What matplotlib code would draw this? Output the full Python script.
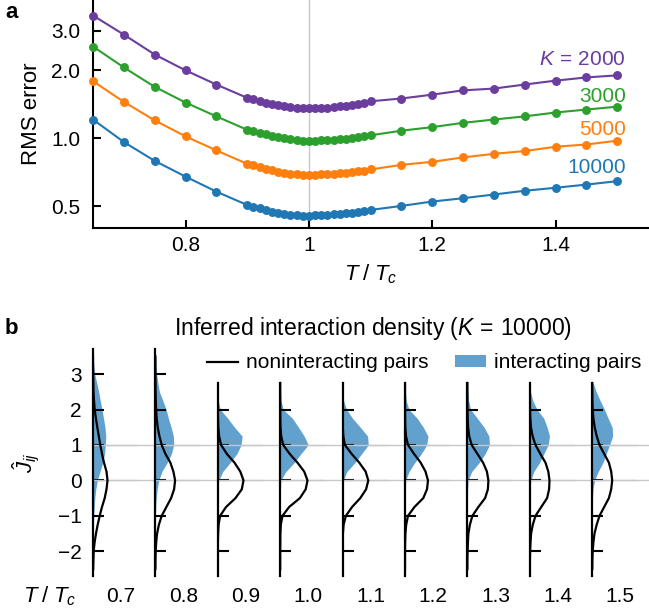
import numpy as np
import matplotlib
matplotlib.use("Agg")
import matplotlib.pyplot as plt
from matplotlib.lines import Line2D
from matplotlib.patches import Patch

plt.rcParams['font.family'] = ['Liberation Sans', 'DejaVu Sans']
plt.rcParams['mathtext.fontset'] = 'custom'
plt.rcParams['mathtext.rm'] = 'Liberation Sans'
plt.rcParams['mathtext.it'] = 'Liberation Sans:italic'
plt.rcParams['mathtext.bf'] = 'Liberation Sans:bold'
plt.rcParams['font.size'] = 15

# ---- panel a data: RMS error vs T/Tc for several sample sizes K ----
T = [0.65, 0.70, 0.75, 0.80, 0.85,
     0.90, 0.91, 0.92, 0.93, 0.94, 0.95, 0.96, 0.97, 0.98, 0.99, 1.00,
     1.01, 1.02, 1.03, 1.04, 1.05, 1.06, 1.07, 1.08, 1.09, 1.10,
     1.15, 1.20, 1.25, 1.30, 1.35, 1.40, 1.45, 1.50]
K_labels = ['2000', '3000', '5000', '10000']
rms_2000 = [3.50, 2.88, 2.35, 2.00, 1.73,
            1.510, 1.485, 1.462, 1.440, 1.420, 1.402, 1.386, 1.374, 1.365, 1.358, 1.355,
            1.356, 1.359, 1.364, 1.372, 1.385, 1.395, 1.407, 1.421, 1.438, 1.458,
            1.50, 1.56, 1.63, 1.66, 1.73, 1.80, 1.86, 1.90]
rms_3000 = [2.55, 2.06, 1.69, 1.44, 1.25,
            1.090, 1.072, 1.055, 1.040, 1.025, 1.010, 0.998, 0.988, 0.981, 0.977, 0.975,
            0.976, 0.978, 0.981, 0.985, 0.990, 0.996, 1.002, 1.010, 1.019, 1.030,
            1.08, 1.12, 1.17, 1.21, 1.25, 1.30, 1.34, 1.38]
rms_5000 = [1.79, 1.45, 1.20, 1.02, 0.883,
            0.770, 0.758, 0.745, 0.733, 0.722, 0.712, 0.703, 0.697, 0.692, 0.690, 0.689,
            0.690, 0.692, 0.694, 0.697, 0.700, 0.704, 0.708, 0.713, 0.719, 0.727,
            0.762, 0.786, 0.822, 0.853, 0.877, 0.917, 0.938, 0.975]
rms_10000 = [1.21, 0.962, 0.794, 0.676, 0.580,
             0.506, 0.498, 0.490, 0.481, 0.473, 0.468, 0.462, 0.457, 0.456, 0.454, 0.454,
             0.455, 0.456, 0.458, 0.460, 0.462, 0.465, 0.468, 0.472, 0.476, 0.481,
             0.501, 0.524, 0.542, 0.563, 0.585, 0.603, 0.623, 0.645]
label_y = [2.23, 1.53, 1.09, 0.74]
colors = ['#6b3d9e', '#2ca02c', '#ff7f0e', '#1f77b4']

# ---- panel b data: inferred coupling densities (K = 10000) ----
T_hist = ['0.7', '0.8', '0.9', '1.0', '1.1', '1.2', '1.3', '1.4', '1.5']
J = np.arange(-2.5, 3.51, 0.25)
# noninteracting pairs (black curve), J = -2.5 ... 3.5
dens_nonint = [
    [0.2, 0.4, 0.7, 1.6, 3.0, 4.7, 6.7, 9.0, 11.7, 13.5, 14.5, 13.5, 11.0, 9.0, 7.3, 5.8, 4.3, 2.9, 1.7, 1.0, 0.5, 0.3, 0.1, 0, 0],
    [0, 0.1, 0.3, 0.8, 1.7, 3.5, 6.3, 11.0, 15.7, 18.7, 19.7, 18.0, 15.0, 10.0, 6.3, 4.0, 2.3, 1.3, 0.7, 0.4, 0.2, 0.1, 0, 0, 0],
    [0, 0, 0, 0.1, 0.3, 0.8, 2.3, 8.3, 17.7, 24.0, 25.7, 22.5, 16.7, 9.0, 3.3, 1.3, 0.5, 0.2, 0.1, 0, 0, 0, 0, 0, 0],
    [0, 0, 0, 0.1, 0.2, 0.6, 2.3, 9.0, 19.7, 25.5, 27.3, 24.0, 17.3, 9.5, 3.0, 1.0, 0.3, 0.1, 0, 0, 0, 0, 0, 0, 0],
    [0, 0, 0, 0.1, 0.3, 1.0, 3.3, 9.5, 17.7, 23.5, 25.7, 23.0, 16.7, 9.0, 2.3, 0.7, 0.2, 0.1, 0, 0, 0, 0, 0, 0, 0],
    [0, 0, 0, 0.1, 0.4, 1.2, 3.0, 9.5, 18.3, 22.0, 23.0, 20.5, 15.7, 9.0, 3.0, 1.0, 0.3, 0.1, 0, 0, 0, 0, 0, 0, 0],
    [0, 0, 0.2, 0.5, 1.0, 2.5, 5.0, 11.0, 17.7, 20.5, 21.0, 19.5, 15.7, 10.0, 4.3, 1.8, 0.7, 0.3, 0.1, 0, 0, 0, 0, 0, 0],
    [0, 0.1, 0.3, 0.7, 1.3, 3.0, 5.7, 11.5, 17.3, 19.3, 19.7, 18.5, 15.7, 10.5, 5.7, 2.8, 1.2, 0.5, 0.2, 0.1, 0, 0, 0, 0, 0],
    [0.1, 0.2, 0.5, 1.2, 2.3, 4.5, 7.3, 12.0, 16.7, 19.0, 20.0, 19.0, 16.7, 12.0, 7.3, 4.5, 2.5, 1.2, 0.5, 0.2, 0.1, 0, 0, 0, 0],
]
# interacting pairs (blue histogram), J = -2.5 ... 3.5
dens_int = [
    [0, 0, 0, 0, 0.2, 0.4, 0.8, 1.2, 1.8, 2.8, 4.3, 7.0, 9.7, 11.5, 12.3, 12.8, 12.0, 10.5, 9.0, 7.3, 5.7, 3.8, 1.7, 0.8, 0.3],
    [0, 0, 0, 0, 0, 0, 0, 0.3, 0.8, 1.8, 3.3, 6.5, 11.7, 16.0, 18.3, 18.0, 15.7, 13.0, 10.7, 7.5, 4.0, 2.5, 1.2, 0.6, 0.2],
    [0, 0, 0, 0, 0, 0, 0, 0, 0, 0.2, 0.8, 5.0, 12.3, 19.0, 23.3, 24.3, 16.7, 10.0, 2.5, 0.5, 0.2, 0, 0, 0, 0],
    [0, 0, 0, 0, 0, 0, 0, 0, 0, 0.2, 0.7, 5.7, 14.0, 20.7, 28.0, 24.0, 18.3, 12.3, 3.0, 0.8, 0.2, 0, 0, 0, 0],
    [0, 0, 0, 0, 0, 0, 0, 0, 0, 0.2, 0.7, 4.3, 12.3, 19.0, 25.7, 25.0, 17.7, 10.0, 4.0, 1.0, 0.3, 0, 0, 0, 0],
    [0, 0, 0, 0, 0, 0, 0, 0, 0, 0.2, 0.7, 4.0, 9.7, 16.3, 21.7, 23.0, 18.3, 12.3, 4.0, 1.2, 0.4, 0.1, 0, 0, 0],
    [0, 0, 0, 0, 0, 0, 0, 0, 0, 0.2, 0.7, 4.3, 11.7, 17.7, 22.0, 21.5, 16.7, 10.0, 3.3, 1.2, 0.4, 0.1, 0, 0, 0],
    [0, 0, 0, 0, 0, 0, 0, 0, 0, 0.3, 1.0, 4.0, 9.7, 14.0, 18.3, 19.7, 17.3, 14.0, 7.3, 3.0, 0.8, 0.2, 0, 0, 0],
    [0, 0, 0, 0, 0, 0, 0, 0, 0.3, 0.8, 2.3, 6.0, 10.7, 14.0, 17.3, 20.5, 20.0, 16.0, 12.3, 8.0, 4.0, 1.0, 0, 0, 0],
]
spine_top = [3.71, 3.71, 2.75, 2.75, 2.75, 2.75, 2.75, 2.75, 2.75]
hist_blue = '#62a1cd'
grey = '#c8c8c8'

W, H = 649, 614
fig = plt.figure(figsize=(W / 100, H / 100), dpi=100)


def px_rect(x0, y0, x1, y1):
    return [x0 / W, 1 - y1 / H, (x1 - x0) / W, (y1 - y0) / H]


# ---------------- panel a ----------------
ax = fig.add_axes(px_rect(93, 0, 648, 228))
ax.axvline(1.0, color=grey, lw=1.0, zorder=0)
for vals, c, lab, ly in zip([rms_2000, rms_3000, rms_5000, rms_10000], colors, K_labels, label_y):
    ax.plot(T, vals, '-o', color=c, lw=1.5, ms=5.4, clip_on=False, zorder=3)
    txt = r'$K\,{=}\,$' + lab if lab == '2000' else lab
    ax.text(1.514, ly, txt, color=c, ha='right', va='center', fontsize=15)
ax.set_yscale('log')
ax.set_xlim(0.65, 1.55)
ax.set_ylim(0.4, 4.1)
ax.set_yticks([0.5, 1, 2, 3])
ax.set_yticklabels(['0.5', '1.0', '2.0', '3.0'])
ax.yaxis.set_minor_locator(matplotlib.ticker.NullLocator())
ax.set_xticks([0.8, 1.0, 1.2, 1.4])
ax.set_xticklabels(['0.8', '1', '1.2', '1.4'])
for s in ['top', 'right']:
    ax.spines[s].set_visible(False)
for s in ['left', 'bottom']:
    ax.spines[s].set_linewidth(1.5)
ax.tick_params(direction='in', length=6, width=1.5, labelsize=15)
ax.tick_params(axis='x', pad=6)
ax.tick_params(axis='y', pad=9)
ax.set_ylabel('RMS error', fontsize=16, labelpad=7)
ax.set_xlabel(r'$T\;/\;T_c$', fontsize=16, labelpad=5)
fig.text(5 / W, 1 - 12 / H, 'a', fontsize=16, fontweight='bold', va='center')

# ---------------- panel b ----------------
y_top, y_bot = 349, 576
jlim = (-2.70, 3.71)
bg = fig.add_axes(px_rect(93, y_top, 649, y_bot))
bg.set_ylim(*jlim)
bg.axhline(0, color=grey, lw=1.0)
bg.axhline(1, color=grey, lw=1.0)
bg.axis('off')

step = 62.4
for i in range(len(T_hist)):
    x0 = 93 + step * i
    keep = J <= spine_top[i]
    sax = fig.add_axes(px_rect(x0, y_top, x0 + 45, y_bot))
    sax.patch.set_alpha(0)
    sax.fill_betweenx(J[keep], 0, np.array(dens_int[i])[keep], color=hist_blue, lw=0, zorder=1)
    sax.axhline(0, color=grey, lw=1.0, zorder=2)
    sax.axhline(1, color=grey, lw=1.0, zorder=2)
    sax.plot(np.array(dens_nonint[i])[keep], J[keep], color='black', lw=1.6, zorder=3)
    sax.set_xlim(0, 45)
    sax.set_ylim(*jlim)
    for s in ['top', 'right', 'bottom']:
        sax.spines[s].set_visible(False)
    sax.spines['left'].set_linewidth(1.6)
    sax.spines['left'].set_bounds(jlim[0], spine_top[i])
    sax.spines['left'].set_zorder(4)
    sax.set_xticks([])
    sax.set_yticks([t for t in [-2, -1, 0, 1, 2, 3] if t < spine_top[i]])
    sax.tick_params(axis='y', direction='in', length=8, width=1.5, labelsize=15, pad=8)
    if i == 0:
        sax.set_yticklabels(['\u22122', '\u22121', '0', '1', '2', '3'])
        sax.set_ylabel(r'$\hat{J}_{ij}$', fontsize=16, labelpad=12)
    else:
        sax.set_yticklabels([])
    fig.text((x0 + 28) / W, 1 - 596 / H, T_hist[i], ha='center', va='center', fontsize=15)

fig.text(50 / W, 1 - 596 / H, r'$T\;/\;T_c$', ha='center', va='center', fontsize=16)
fig.text(373 / W, 1 - 328 / H, r'Inferred interaction density ($K\,{=}\,10000$)',
         ha='center', va='center', fontsize=16.5)
fig.text(5 / W, 1 - 328 / H, 'b', fontsize=16, fontweight='bold', va='center')

handles = [Line2D([], [], color='black', lw=1.6), Patch(color=hist_blue, lw=0)]
fig.legend(handles, ['noninteracting pairs', 'interacting pairs'], ncol=2,
           loc='center', bbox_to_anchor=(424 / W, 1 - 363 / H), frameon=False,
           fontsize=15, handlelength=1.5, handleheight=0.5, handletextpad=0.35,
           columnspacing=1.3, borderpad=0, borderaxespad=0)

fig.savefig('out.png', dpi=100)
